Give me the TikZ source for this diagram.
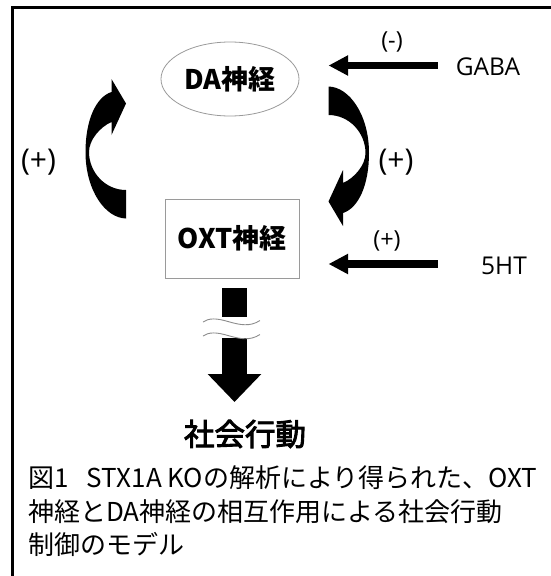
\documentclass[tikz,border=0pt]{standalone}
\usepackage{fontspec}
\usetikzlibrary{arrows.meta,shapes.geometric}
\newfontfamily\jpfont{Noto Sans CJK JP}
\newfontfamily\jpmedfont[FakeBold=3]{Noto Sans CJK JP}
\newfontfamily\latfont{Open Sans}
\definecolor{edgegray}{HTML}{9A9A9A}
\definecolor{wavegray}{HTML}{8C8C8C}
\tikzset{
  bentarrow/.pic={
    \fill (20,70) .. controls (-1,69.5) and (-20.5,41.5) .. (-20.5,3.5)
      .. controls (-20.5,-28.5) and (-10,-51.5) .. (5.5,-56.5)
      -- (5.5,-69.5) -- (20,-45) -- (5.5,-13.5) -- (5.5,-26.5)
      .. controls (-6,-21.5) and (-17,-8.5) .. (-17,3.5)
      .. controls (-17,23.5) and (-1,41.5) .. (20,41.5) -- cycle;
  }
}
\begin{document}
\begin{tikzpicture}[x=1pt,y=-1pt,
  nodetext/.style={font=\jpfont\bfseries\fontsize{27}{32}\selectfont},
  lbl/.style={font=\latfont\fontsize{23.5}{28}\selectfont, inner sep=0},
  lblbig/.style={font=\latfont\fontsize{30}{36}\selectfont, inner sep=0},
  srclbl/.style={font=\latfont\fontsize{24.5}{30}\selectfont, inner sep=0},
  captionline/.style={font=\jpfont\fontsize{26}{30}\selectfont, inner sep=0, anchor=west, text height=0.83em, text depth=0.07em},
  fatarrow/.style={line width=7.5pt, -{Triangle[length=19.5pt,width=19pt]}},
  downarrow/.style={line width=25pt, -{Triangle[length=28pt,width=52pt]}},
  wave/.style={draw=wavegray, line width=0.9pt}
]
\useasboundingbox (0,0) rectangle (551,576);
% frame
\draw[line width=3pt] (12.3,600) -- (12.3,7.5) -- (570,7.5);

% nodes
\node[ellipse, draw=edgegray, line width=0.8pt, inner sep=0, minimum width=138pt, minimum height=74pt, nodetext] (da) at (230,79) {DA神経};
\node[rectangle, draw=edgegray, line width=0.8pt, inner sep=0, minimum width=134pt, minimum height=79pt, nodetext] (oxt) at (232,238.5) {OXT神経};

% curved arrows
\pic at (106,148.5) {bentarrow};
\pic[rotate=180] at (348.5,156.5) {bentarrow};
\node[lblbig] (plusL) at (38.5,162) {(+)};
\node[lblbig] (plusR) at (396,162) {(+)};

% input arrows
\node[srclbl] (gaba) at (488,67) {GABA};
\node[lbl] (minus) at (392,42) {(-)};
\coordinate (gabaTail) at (437.5,65.5);
\coordinate (gabaTip) at (328.5,65.5);
\draw[fatarrow] (gabaTail) -- (gabaTip);

\node[srclbl] (sht) at (504,265.5) {5HT};
\node[lbl] (plusS) at (387,241) {(+)};
\coordinate (shtTail) at (437.5,264);
\coordinate (shtTip) at (328.5,264);
\draw[fatarrow] (shtTail) -- (shtTip);

% down arrow with break
\coordinate (dnTop) at (234.5,288);
\coordinate (dnBreak) at (234.5,317);
\coordinate (dnStart) at (234.5,338);
\coordinate (dnTip) at (234.5,402);
\fill ([xshift=-12.5pt]dnTop) rectangle ([xshift=12.5pt]dnBreak);
\draw[downarrow] (dnStart) -- (dnTip);
\draw[wave] (203,322) .. controls (209,318) and (216,318) .. (228,321.5)
  .. controls (240,325) and (250,327) .. (260,320.5);
\draw[wave] (203,336) .. controls (209,332) and (216,332) .. (228,335.5)
  .. controls (240,339) and (250,341) .. (260,334.5);

\node[font=\jpmedfont\fontsize{30.5}{36}\selectfont, inner sep=0] (social) at (245,434) {社会行動};

% caption
\node[captionline] (cap1) at (28,484) {図1\hspace{0.7em}STX1A KOの解析により得られた、OXT};
\node[captionline] (cap2) at (28,517.5) {神経とDA神経の相互作用による社会行動};
\node[captionline] (cap3) at (28,551) {制御のモデル};
\end{tikzpicture}
\end{document}
